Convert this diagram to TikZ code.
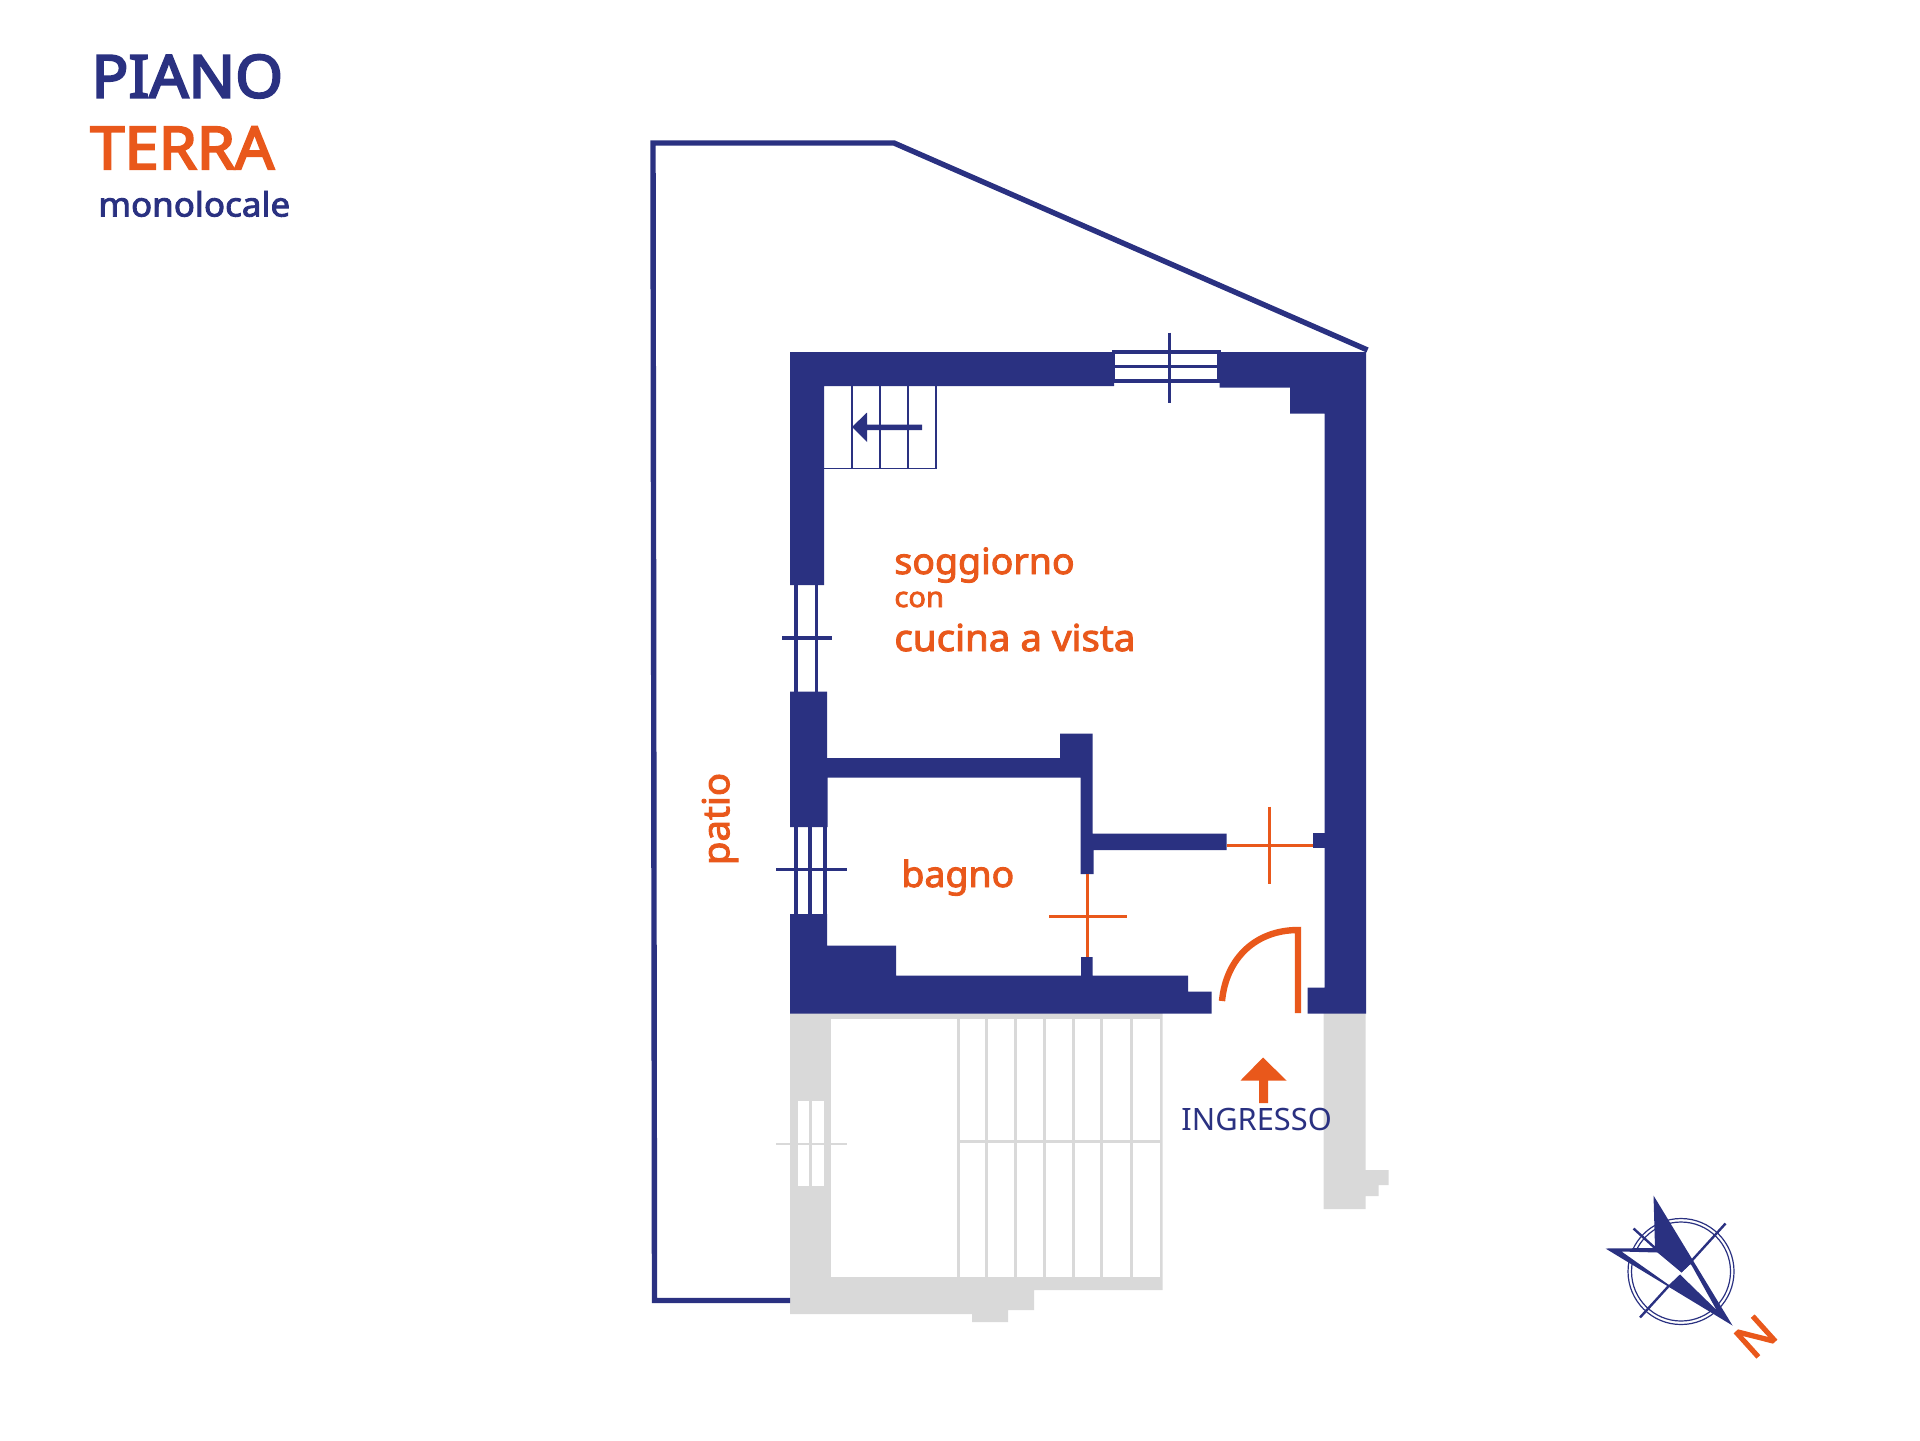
\documentclass[tikz,border=0pt]{standalone}
\usepackage{fontspec}
\setmainfont{Noto Sans}
\newfontfamily\semifont[FakeBold=2.6, FakeStretch=1.04]{Noto Sans}
\newfontfamily\titlefont[FakeBold=3.6, FakeStretch=1.04]{Noto Sans}
\definecolor{navy}{HTML}{2A3181}
\definecolor{brick}{HTML}{E9581B}
\definecolor{ghost}{HTML}{D9D9D9}
\tikzset{
    wall/.style={fill=navy},
    oldwall/.style={fill=ghost},
    oldline/.style={draw=ghost, line width=1.5pt},
    frame/.style={draw=navy, line width=1.6pt},
    thin/.style={draw=navy, line width=0.9pt},
    doorline/.style={draw=brick, line width=1.5pt},
    label/.style={inner sep=0pt, anchor=base west, text=brick}
}
\begin{document}
\begin{tikzpicture}[x=0.5pt, y=-0.5pt]
    \useasboundingbox (0, 0) rectangle (1920, 1440);
    % gray part
    \fill[oldwall] (790, 1013) -- (1162.5, 1013) -- (1162.5, 1290) -- (1034, 1290) -- (1034, 1310) -- (1008, 1310) -- (1008, 1322) -- (972, 1322) -- (972, 1314) -- (790, 1314) -- cycle;
    \fill[white] (830.5, 1018.5) rectangle (1159.5, 1277);
    \fill[white] (797.5, 1101) rectangle (809, 1186);
    \fill[white] (811.5, 1101) rectangle (823.5, 1186);
    \draw[oldline, line width=1pt] (776, 1143.5) -- (846.5, 1143.5);
    \draw[oldline] (958, 1018) -- (958, 1277);
    \draw[oldline] (986.5, 1018) -- (986.5, 1277);
    \draw[oldline] (1015.5, 1018) -- (1015.5, 1277);
    \draw[oldline] (1044.5, 1018) -- (1044.5, 1277);
    \draw[oldline] (1073.5, 1018) -- (1073.5, 1277);
    \draw[oldline] (1101.5, 1018) -- (1101.5, 1277);
    \draw[oldline] (1131, 1018) -- (1131, 1277);
    \draw[oldline] (958, 1141) -- (1159.5, 1141);
    \fill[oldwall] (1323.5, 1013) -- (1365.5, 1013) -- (1365.5, 1170) -- (1388.5, 1170) -- (1388.5, 1185) -- (1378.5, 1185) -- (1378.5, 1196) -- (1365.5, 1196) -- (1365.5, 1209) -- (1323.5, 1209) -- cycle;
    % patio
    \draw[navy, line width=2.7pt] (790, 1300.5) -- (654.5, 1300.5) -- (653, 143) -- (894, 143) -- (1367.5, 350);
    % walls
    \fill[wall] (790, 352) -- (1114, 352) -- (1114, 386) -- (824, 386) -- (824, 585) -- (790, 585) -- cycle;
    \fill[wall] (1219.5, 352) -- (1366, 352) -- (1366, 1013.5) -- (1307.5, 1013.5) -- (1307.5, 987.5) -- (1324.5, 987.5) -- (1324.5, 413.5) -- (1290, 413.5) -- (1290, 387.5) -- (1219.5, 387.5) -- cycle;
    \fill[wall] (1313, 832.5) rectangle (1324.5, 847.5);
    \fill[wall] (790, 691.5) -- (827, 691.5) -- (827, 758) -- (1060, 758) -- (1060, 733.5) -- (1092.5, 733.5) -- (1092.5, 833.5) -- (1226.5, 833.5) -- (1226.5, 850) -- (1093.5, 850) -- (1093.5, 874) -- (1080.5, 874) -- (1080.5, 777.5) -- (827.5, 777.5) -- (827.5, 827) -- (790, 827) -- cycle;
    \fill[wall] (790, 914) -- (827, 914) -- (827, 945.5) -- (896, 945.5) -- (896, 975.5) -- (1081, 975.5) -- (1081, 957) -- (1092.5, 957) -- (1092.5, 975.5) -- (1188, 975.5) -- (1188, 991.5) -- (1211.5, 991.5) -- (1211.5, 1013.5) -- (790, 1013.5) -- cycle;
    % windows
    \draw[frame] (1113.5, 352) -- (1219, 352);
    \draw[frame] (1113.5, 366.5) -- (1219, 366.5);
    \draw[frame] (1113.5, 381) -- (1219, 381);
    \draw[frame] (1113.5, 350) -- (1113.5, 383);
    \draw[frame] (1219, 350) -- (1219, 383);
    \draw[frame] (1169.5, 332.5) -- (1169.5, 402.5);
    \draw[frame] (796, 585) -- (796, 692);
    \draw[frame] (816.5, 585) -- (816.5, 692);
    \draw[frame] (782, 638) -- (832, 638);
    \draw[frame] (796, 825) -- (796, 914);
    \draw[frame] (810, 825) -- (810, 914);
    \draw[frame] (825, 825) -- (825, 914);
    \draw[frame] (776, 869.5) -- (847, 869.5);
    % stairs
    \draw[thin] (824, 468.5) -- (936, 468.5) -- (936, 386);
    \draw[thin] (852, 386) -- (852, 468.5);
    \draw[thin] (880, 386) -- (880, 468.5);
    \draw[thin] (908, 386) -- (908, 468.5);
    \fill[wall] (852, 427) -- (867, 412.5) -- (867, 424.5) -- (922, 424.5) -- (922, 430) -- (867, 430) -- (867, 442) -- cycle;
    % doors
    \draw[doorline] (1087.5, 874) -- (1087.5, 957);
    \draw[doorline] (1049, 916.5) -- (1126.5, 916.5);
    \draw[doorline] (1226.5, 845) -- (1313, 845);
    \draw[doorline] (1269, 806.5) -- (1269, 883.5);
    \draw[draw=brick, line width=3.2pt] (1222, 1001) .. controls (1226, 958) and (1256, 930) .. (1298, 930) -- (1298, 1013);
    % entrance arrow
    \fill[brick] (1263, 1057.5) -- (1286.5, 1080.5) -- (1268, 1080.5) -- (1268, 1103) -- (1259, 1103) -- (1259, 1080.5) -- (1240.5, 1080.5) -- cycle;
    % compass
    \draw[navy, line width=0.6pt] (1681, 1271.5) circle [radius=26.5pt];
    \draw[navy, line width=0.6pt] (1681, 1271.5) circle [radius=24.75pt];
    \draw[navy, line width=1.2pt] (1633.5, 1228.5) -- (1655, 1248);
    \draw[navy, line width=1.2pt] (1725.5, 1223.5) -- (1640, 1317.5);
    \fill[white] (1621.5, 1251.5) -- (1657.5, 1252.5) -- (1681.5, 1272.5) -- (1690.5, 1264) -- (1692, 1266) -- (1716.5, 1310) -- (1680, 1274.5) -- (1669, 1285) -- cycle;
    \fill[navy, even odd rule] (1653.5, 1195.5) -- (1732.5, 1325.5) -- (1605.5, 1248.5) -- (1655, 1248) -- cycle (1621.5, 1251.5) -- (1657.5, 1252.5) -- (1681.5, 1272.5) -- (1690.5, 1264) -- (1692, 1266) -- (1716.5, 1310) -- (1680, 1274.5) -- (1669, 1285) -- cycle;
    % texts
    \node[label, text=navy, font=\titlefont\fontsize{29.5}{30}\selectfont] (piano) at (91, 97.5) {PIANO};
    \node[label, font=\titlefont\fontsize{29.5}{30}\selectfont] (terra) at (90, 169) {TERRA};
    \node[label, text=navy, font=\semifont\fontsize{16.8}{18}\selectfont] (mono) at (98, 216.5) {monolocale};
    \node[label, font=\semifont\fontsize{18}{20}\selectfont] (soggiorno) at (894, 574) {soggiorno};
    \node[label, font=\semifont\fontsize{14}{15}\selectfont] (con) at (894, 607) {con};
    \node[label, font=\semifont\fontsize{18.5}{20}\selectfont] (cucina) at (894, 651) {cucina a vista};
    \node[label, font=\semifont\fontsize{18}{20}\selectfont] (bagno) at (901, 887) {bagno};
    \node[label, anchor=center, rotate=90, font=\semifont\fontsize{18.5}{20}\selectfont] (patio) at (720, 819) {patio};
    \node[label, text=navy, font=\fontsize{15.4}{16}\selectfont] (ingresso) at (1181, 1130) {INGRESSO};
    \node[inner sep=0pt, rotate=-138, text=brick, font=\semifont\fontsize{23}{24}\selectfont] (north) at (1755.5, 1336.5) {N};
\end{tikzpicture}
\end{document}
